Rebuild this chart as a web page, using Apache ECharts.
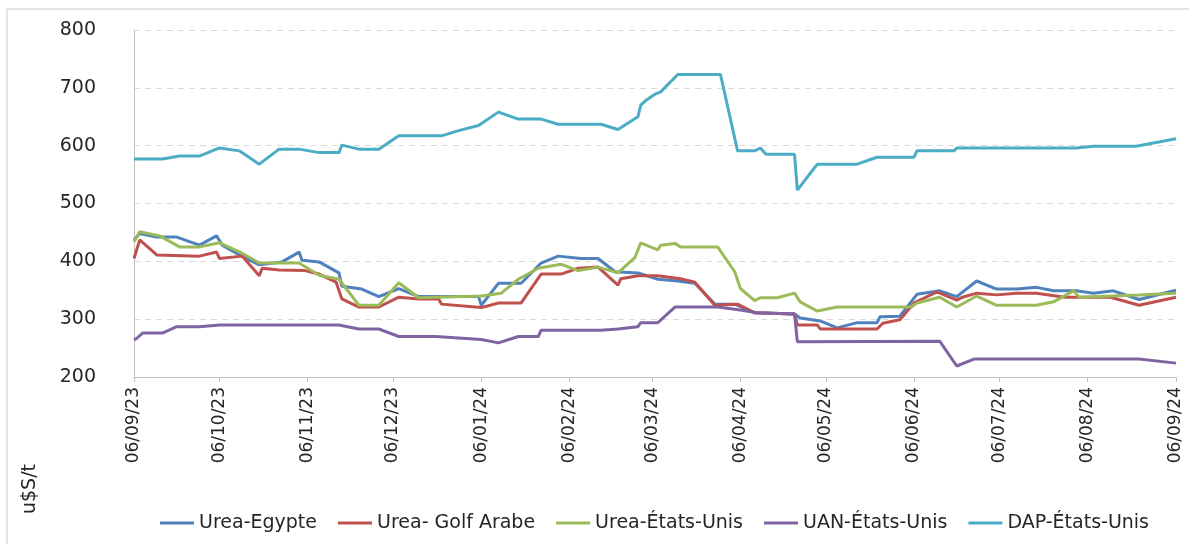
<!DOCTYPE html>
<html>
<head>
<meta charset="utf-8">
<script src="https://cdn.jsdelivr.net/npm/echarts@6/dist/echarts.min.js"></script>
<style>
html,body{margin:0;padding:0;background:#fff;}
#chart{width:1189px;height:544px;}
</style>
</head>
<body>
<div id="chart"></div>
<script>
// ---- data ----
const seriesNames = ['Urea-Egypte', 'Urea- Golf Arabe', 'Urea-États-Unis', 'UAN-États-Unis', 'DAP-États-Unis'];
const seriesColors = ['#4F81BD', '#C0504D', '#9BBB59', '#8064A2', '#4BACC6'];
const yTicks = [200, 300, 400, 500, 600, 700, 800];
const xTickDates = ['2023-09-06','2023-10-06','2023-11-06','2023-12-06','2024-01-06','2024-02-06','2024-03-06','2024-04-06','2024-05-06','2024-06-06','2024-07-06','2024-08-06','2024-09-06'];

const ureaEgypte = [
  ['2023-09-06',437],['2023-09-08',448],['2023-09-14',442],['2023-09-21',442],['2023-09-29',428],
  ['2023-10-05',444],['2023-10-07',428],['2023-10-13',411],['2023-10-20',394],['2023-10-28',399],
  ['2023-11-03',416],['2023-11-04',402],['2023-11-10',399],['2023-11-17',380],['2023-11-18',357],
  ['2023-11-25',352],['2023-12-01',339],['2023-12-08',353],['2023-12-15',339],['2024-01-05',339],
  ['2024-01-06',324],['2024-01-12',362],['2024-01-20',362],['2024-01-27',397],['2024-02-02',409],
  ['2024-02-10',405],['2024-02-16',405],['2024-02-22',382],['2024-03-01',380],['2024-03-08',369],
  ['2024-03-15',366],['2024-03-21',362],['2024-03-28',326],['2024-04-04',326],['2024-04-11',311],
  ['2024-04-25',309],['2024-04-27',302],['2024-05-04',297],['2024-05-10',285],['2024-05-17',294],
  ['2024-05-24',294],['2024-05-25',304],['2024-06-01',305],['2024-06-07',343],['2024-06-15',349],
  ['2024-06-21',339],['2024-06-28',366],['2024-07-05',352],['2024-07-12',352],['2024-07-19',355],
  ['2024-07-25',349],['2024-08-02',349],['2024-08-08',345],['2024-08-15',349],['2024-08-24',334],
  ['2024-09-06',350]
];
const ureaGolfArabe = [
  ['2023-09-06',405],['2023-09-08',437],['2023-09-14',411],['2023-09-29',409],['2023-10-05',416],
  ['2023-10-06',405],['2023-10-14',409],['2023-10-20',375],['2023-10-21',388],['2023-10-27',385],
  ['2023-11-05',384],['2023-11-10',378],['2023-11-16',364],['2023-11-18',335],['2023-11-24',321],
  ['2023-12-01',321],['2023-12-08',338],['2023-12-15',335],['2023-12-22',335],['2023-12-23',326],
  ['2024-01-06',320],['2024-01-12',328],['2024-01-20',328],['2024-01-27',378],['2024-02-03',378],
  ['2024-02-09',388],['2024-02-16',390],['2024-02-23',359],['2024-02-24',370],['2024-03-01',375],
  ['2024-03-08',375],['2024-03-16',370],['2024-03-21',364],['2024-03-28',324],['2024-04-05',326],
  ['2024-04-11',311],['2024-04-25',309],['2024-04-26',290],['2024-05-03',290],['2024-05-04',283],
  ['2024-05-24',283],['2024-05-26',293],['2024-06-01',299],['2024-06-06',328],['2024-06-14',347],
  ['2024-06-21',333],['2024-06-23',338],['2024-06-28',345],['2024-07-05',342],['2024-07-12',345],
  ['2024-07-19',345],['2024-07-29',338],['2024-08-14',338],['2024-08-24',324],['2024-09-06',338]
];
const ureaEtatsUnis = [
  ['2023-09-06',434],['2023-09-08',451],['2023-09-15',444],['2023-09-22',425],['2023-09-29',425],
  ['2023-10-06',432],['2023-10-14',414],['2023-10-20',397],['2023-11-03',397],['2023-11-10',376],
  ['2023-11-17',369],['2023-11-24',324],['2023-12-01',324],['2023-12-08',363],['2023-12-15',337],
  ['2024-01-06',340],['2024-01-13',345],['2024-01-19',369],['2024-01-26',388],['2024-02-03',395],
  ['2024-02-09',384],['2024-02-16',390],['2024-02-23',380],['2024-02-29',407],['2024-03-02',432],
  ['2024-03-08',420],['2024-03-09',428],['2024-03-14',431],['2024-03-16',425],['2024-03-29',425],
  ['2024-04-04',382],['2024-04-06',353],['2024-04-11',332],['2024-04-13',337],['2024-04-19',337],
  ['2024-04-25',345],['2024-04-27',330],['2024-05-03',314],['2024-05-10',321],['2024-06-05',321],
  ['2024-06-07',328],['2024-06-15',338],['2024-06-21',321],['2024-06-28',340],['2024-07-05',324],
  ['2024-07-19',324],['2024-07-25',330],['2024-08-01',349],['2024-08-03',338],['2024-08-14',340],
  ['2024-08-24',342],['2024-09-06',345]
];
const uanEtatsUnis = [
  ['2023-09-06',264],['2023-09-07',267],['2023-09-09',276],['2023-09-16',276],['2023-09-21',287],
  ['2023-09-29',287],['2023-10-06',290],['2023-11-17',290],['2023-11-24',283],['2023-12-01',283],
  ['2023-12-08',270],['2023-12-21',270],['2024-01-06',265],['2024-01-12',259],['2024-01-19',270],
  ['2024-01-26',270],['2024-01-27',281],['2024-02-17',281],['2024-02-23',283],['2024-03-01',287],
  ['2024-03-02',294],['2024-03-08',294],['2024-03-14',321],['2024-03-29',321],['2024-04-06',316],
  ['2024-04-12',311],['2024-04-25',309],['2024-04-26',261],['2024-06-15',262],['2024-06-21',219],
  ['2024-06-27',231],['2024-08-24',231],['2024-09-06',224]
];
const dapEtatsUnis = [
  ['2023-09-06',577],['2023-09-16',577],['2023-09-22',582],['2023-09-29',582],['2023-10-06',596],
  ['2023-10-13',591],['2023-10-20',568],['2023-10-27',594],['2023-11-03',594],['2023-11-10',588],
  ['2023-11-17',588],['2023-11-18',601],['2023-11-24',594],['2023-12-01',594],['2023-12-08',617],
  ['2023-12-23',617],['2023-12-29',626],['2024-01-05',635],['2024-01-12',658],['2024-01-19',646],
  ['2024-01-27',646],['2024-02-02',637],['2024-02-17',637],['2024-02-23',628],['2024-03-01',650],
  ['2024-03-02',670],['2024-03-04',679],['2024-03-07',689],['2024-03-09',693],['2024-03-15',723],
  ['2024-03-30',723],['2024-04-05',591],['2024-04-11',591],['2024-04-13',596],['2024-04-15',585],
  ['2024-04-25',585],['2024-04-26',523],['2024-05-03',568],['2024-05-17',568],['2024-05-24',580],
  ['2024-06-06',580],['2024-06-07',591],['2024-06-20',591],['2024-06-21',596],['2024-08-02',596],
  ['2024-08-08',599],['2024-08-23',599],['2024-09-06',612]
];
const seriesData = [ureaEgypte, ureaGolfArabe, ureaEtatsUnis, uanEtatsUnis, dapEtatsUnis];

// ---- chart ----
function toTs(s){ const p = s.split('-').map(Number); return new Date(p[0], p[1]-1, p[2]).getTime(); }
function pad(n){ return (n < 10 ? '0' : '') + n; }
const tickTs = xTickDates.map(toTs);
const FONT = 'DejaVu Sans';

const chart = echarts.init(document.getElementById('chart'), null, {renderer: 'canvas'});
chart.setOption({
  animation: false,
  backgroundColor: '#ffffff',
  textStyle: {fontFamily: FONT},
  grid: {left: 134, right: 13, top: 30, bottom: 167, containLabel: false},
  xAxis: {
    type: 'value',
    min: tickTs[0],
    max: tickTs[tickTs.length - 1],
    axisLine: {show: true, lineStyle: {color: '#bfbfbf', width: 1}},
    axisTick: {show: true, length: 5, lineStyle: {color: '#bfbfbf'}, customValues: tickTs},
    axisLabel: {
      customValues: tickTs,
      rotate: 90,
      margin: 10,
      fontSize: 17,
      fontFamily: FONT,
      color: '#262626',
      showMinLabel: true,
      showMaxLabel: true,
      formatter: function (v) {
        const d = new Date(v);
        return pad(d.getDate()) + '/' + pad(d.getMonth() + 1) + '/' + pad(d.getFullYear() % 100);
      }
    },
    splitLine: {show: false}
  },
  yAxis: {
    type: 'value',
    min: yTicks[0],
    max: yTicks[yTicks.length - 1],
    interval: 100,
    axisLine: {show: true, lineStyle: {color: '#bfbfbf', width: 1}},
    axisTick: {show: false},
    axisLabel: {margin: 38, fontSize: 19, fontFamily: FONT, color: '#262626'},
    splitLine: {show: true, lineStyle: {color: '#d9d9d9', width: 1, type: [6, 5]}}
  },
  legend: {
    left: 160,
    top: 511,
    padding: 0,
    icon: 'rect',
    itemWidth: 34,
    itemHeight: 3,
    itemGap: 21,
    textStyle: {fontSize: 19, fontFamily: FONT, color: '#262626', lineHeight: 24},
    data: seriesNames
  },
  series: seriesNames.map(function (name, i) {
    return {
      name: name,
      type: 'line',
      data: seriesData[i].map(function (p) { return [toTs(p[0]), p[1]]; }),
      showSymbol: false,
      symbol: 'none',
      lineStyle: {width: 3, color: seriesColors[i]},
      itemStyle: {color: seriesColors[i]},
      z: 2 + i
    };
  }),
  graphic: [
    {type: 'line', shape: {x1: 7, y1: 9, x2: 1189, y2: 9}, style: {stroke: '#e3e3e3', lineWidth: 2}, silent: true},
    {type: 'line', shape: {x1: 7, y1: 9, x2: 7, y2: 544}, style: {stroke: '#e3e3e3', lineWidth: 2}, silent: true},
    {type: 'text', x: 30, y: 489, rotation: Math.PI / 2,
     style: {text: 'u$S/t', font: '19px "DejaVu Sans"', fill: '#262626', align: 'center', verticalAlign: 'middle'}}
  ]
});
</script>
</body>
</html>
